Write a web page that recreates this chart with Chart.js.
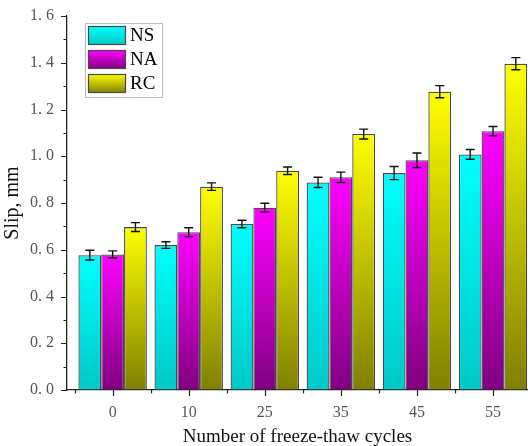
<!DOCTYPE html>
<html>
<head>
<meta charset="utf-8">
<script src="https://cdn.jsdelivr.net/npm/chart.js@4.4.1/dist/chart.umd.min.js"></script>
<style>
  html, body { margin: 0; padding: 0; background: #fff; overflow: hidden; }
  #wrap { width: 528px; height: 446px; }
</style>
</head>
<body>
<div id="wrap"><canvas id="slipChart" width="528" height="446"></canvas></div>
<script>
// Freeze-thaw cycles (category labels)
const cycles = ['0', '10', '25', '35', '45', '55'];

// Mean slip, mm
const slipNS = [0.577, 0.620, 0.710, 0.888, 0.928, 1.008];
const slipNA = [0.580, 0.675, 0.780, 0.910, 0.983, 1.107];
const slipRC = [0.697, 0.870, 0.938, 1.095, 1.276, 1.396];

// Error bar half-heights, mm
const errNS = [0.021, 0.014, 0.016, 0.022, 0.028, 0.021];
const errNA = [0.015, 0.019, 0.019, 0.022, 0.031, 0.020];
const errRC = [0.019, 0.016, 0.016, 0.021, 0.026, 0.026];

const serif = "'Liberation Serif', 'Times New Roman', serif";

// top colour -> bottom colour of each bar gradient
const shades = {
    NS: ['#00ffff', '#00c8c8'],
    NA: ['#ff00ff', '#800080'],
    RC: ['#ffff00', '#808000']
};

function barGradient(name) {
    return function (context) {
        const chart = context.chart;
        const area = chart.chartArea;
        const colors = shades[name];
        if (!area || !context.parsed) return colors[0];
        const top = chart.scales.y.getPixelForValue(context.parsed.y);
        const g = chart.ctx.createLinearGradient(0, top, 0, area.bottom);
        g.addColorStop(0, colors[0]);
        g.addColorStop(1, colors[1]);
        return g;
    };
}

function makeDataset(name, values, errors) {
    return {
        label: name,
        data: values.map((v, i) => ({ x: i, y: v })),
        errors: errors,
        backgroundColor: barGradient(name),
        borderColor: '#4a4a4a',
        borderWidth: 1.3,
        categoryPercentage: 0.9,
        barPercentage: 1.0
    };
}

// Error bars with caps
const errorBars = {
    id: 'errorBars',
    afterDatasetsDraw(chart) {
        const ctx = chart.ctx;
        const y = chart.scales.y;
        ctx.save();
        ctx.strokeStyle = '#111';
        ctx.lineWidth = 1.4;
        chart.data.datasets.forEach((ds, di) => {
            const meta = chart.getDatasetMeta(di);
            meta.data.forEach((bar, i) => {
                const v = ds.data[i].y;
                const e = ds.errors[i];
                const yTop = y.getPixelForValue(v + e);
                const yBot = y.getPixelForValue(v - e);
                const cx = bar.x;
                ctx.beginPath();
                ctx.moveTo(cx, yTop); ctx.lineTo(cx, yBot);
                ctx.moveTo(cx - 4.5, yTop); ctx.lineTo(cx + 4.5, yTop);
                ctx.moveTo(cx - 4.5, yBot); ctx.lineTo(cx + 4.5, yBot);
                ctx.stroke();
            });
        });
        ctx.restore();
    }
};

// Major and minor tick marks on both axes
const tickMarks = {
    id: 'tickMarks',
    afterDraw(chart) {
        const { ctx, chartArea, scales } = chart;
        ctx.save();
        ctx.strokeStyle = '#222';
        ctx.lineWidth = 1.2;
        ctx.beginPath();
        for (let k = 0; k <= 16; k++) {
            const py = Math.round(scales.y.getPixelForValue(k / 10)) + 0.5;
            const len = k % 2 === 0 ? 6 : 3.5;
            ctx.moveTo(chartArea.left - len, py);
            ctx.lineTo(chartArea.left, py);
        }
        for (let i = 0; i <= cycles.length; i++) {
            const major = Math.round(scales.x.getPixelForValue(i)) + 0.5;
            const minor = Math.round(scales.x.getPixelForValue(i - 0.5)) + 0.5;
            if (i < cycles.length) {
                ctx.moveTo(major, chartArea.bottom);
                ctx.lineTo(major, chartArea.bottom + 6);
            }
            if (minor > chartArea.left && minor < chartArea.right) {
                ctx.moveTo(minor, chartArea.bottom);
                ctx.lineTo(minor, chartArea.bottom + 3.5);
            }
        }
        ctx.stroke();
        ctx.restore();
    }
};

// Boxed legend in the upper-left corner of the plot
const boxLegend = {
    id: 'boxLegend',
    afterDraw(chart) {
        const ctx = chart.ctx;
        const left = 85.5, top = 23.5;
        ctx.save();
        ctx.fillStyle = '#fff';
        ctx.fillRect(left, top, 77, 74);
        ctx.strokeStyle = '#bdbdbd';
        ctx.lineWidth = 1;
        ctx.strokeRect(left, top, 77, 74);
        chart.data.datasets.forEach((ds, i) => {
            const sy = 26 + i * 24;
            const colors = shades[ds.label];
            const g = ctx.createLinearGradient(0, sy, 0, sy + 19);
            g.addColorStop(0, colors[0]);
            g.addColorStop(1, colors[1]);
            ctx.fillStyle = g;
            ctx.fillRect(88, sy, 38, 19);
            ctx.strokeStyle = '#4a4a4a';
            ctx.lineWidth = 1.2;
            ctx.strokeRect(88.5, sy + 0.5, 37, 18);
            ctx.fillStyle = '#000';
            ctx.font = '19px ' + serif;
            ctx.textBaseline = 'middle';
            ctx.textAlign = 'left';
            ctx.fillText(ds.label, 130, sy + 10);
        });
        ctx.restore();
    }
};

new Chart(document.getElementById('slipChart'), {
    type: 'bar',
    data: {
        datasets: [
            makeDataset('NS', slipNS, errNS),
            makeDataset('NA', slipNA, errNA),
            makeDataset('RC', slipRC, errRC)
        ]
    },
    options: {
        responsive: false,
        animation: false,
        layout: { padding: { top: 16, right: 0, left: 0, bottom: 0 } },
        plugins: {
            legend: { display: false },
            tooltip: { enabled: false }
        },
        scales: {
            x: {
                type: 'linear',
                offset: false,
                min: -0.6,
                max: 5.46,
                afterBuildTicks: (scale) => {
                    scale.ticks = cycles.map((_, i) => ({ value: i }));
                },
                afterFit: (scale) => {
                    scale.height = 56;
                    scale.paddingLeft = 0;
                    scale.paddingRight = 0;
                },
                grid: { display: true, drawOnChartArea: false, drawTicks: false, offset: false },
                border: { display: true, color: '#222', width: 1.3 },
                ticks: {
                    autoSkip: false,
                    maxRotation: 0,
                    padding: 13,
                    color: '#555',
                    font: { family: serif, size: 16 },
                    callback: (value) => cycles[value]
                },
                title: {
                    display: true,
                    text: 'Number of freeze-thaw cycles',
                    color: '#111',
                    font: { family: serif, size: 19, lineHeight: 0.9 },
                    padding: { top: 0, bottom: 0 }
                }
            },
            y: {
                min: 0,
                max: 1.6,
                afterFit: (scale) => {
                    scale.width = 67;
                    // keep the plot top set by layout padding alone
                    scale.paddingTop = 0;
                    scale.paddingBottom = 0;
                },
                grid: { display: true, drawOnChartArea: false, drawTicks: false },
                border: { display: true, color: '#222', width: 1.3 },
                ticks: {
                    stepSize: 0.2,
                    padding: 13,
                    color: '#555',
                    font: { family: serif, size: 16 },
                    callback: (value) => value.toFixed(1).replace('.', '. ')
                },
                title: {
                    display: true,
                    text: 'Slip, mm',
                    color: '#111',
                    font: { family: serif, size: 20 },
                    padding: { top: 1, bottom: 0 }
                }
            }
        }
    },
    plugins: [errorBars, tickMarks, boxLegend]
});
</script>
</body>
</html>
